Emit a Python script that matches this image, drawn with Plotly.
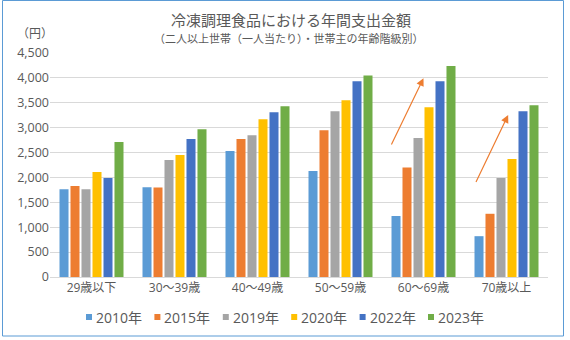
import plotly.graph_objects as go

categories = ["29歳以下", "30～39歳", "40～49歳", "50～59歳", "60～69歳", "70歳以上"]
series_names = ["2010年", "2015年", "2019年", "2020年", "2022年", "2023年"]
series_colors = ["#5B9BD5", "#ED7D31", "#A5A5A5", "#FFC000", "#4472C4", "#70AD47"]
values_2010 = [1765, 1805, 2530, 2130, 1225, 820]
values_2015 = [1830, 1800, 2770, 2950, 2200, 1270]
values_2019 = [1765, 2350, 2850, 3330, 2790, 1990]
values_2020 = [2110, 2450, 3170, 3550, 3410, 2370]
values_2022 = [1990, 2770, 3310, 3930, 3930, 3330]
values_2023 = [2710, 2970, 3430, 4050, 4240, 3450]
series_values = [values_2010, values_2015, values_2019, values_2020, values_2022, values_2023]

y_ticks = [0, 500, 1000, 1500, 2000, 2500, 3000, 3500, 4000, 4500]

# trend arrows: (tail category index, tail value, head category index, head value)
arrow_60s = (3.605, 2630, 4.0, 3995)
arrow_70s = (4.624, 1880, 5.02, 3255)

title_text = "冷凍調理食品における年間支出金額"
subtitle_text = "（二人以上世帯（一人当たり）・世帯主の年齢階級別）"
unit_text = "（円）"

TXT = "#595959"
FONT = "Open Sans, Noto Sans CJK JP, sans-serif"
CJK = "Noto Sans CJK JP, sans-serif"

W, H = 570, 340
ML, MR, MT, MB = 50, 22, 53, 63
PW = W - ML - MR
PH = H - MT - MB


def px_x(px):
    return (px - ML) / PW


def px_y(py):
    return (H - MB - py) / PH


fig = go.Figure()
for name, color, vals in zip(series_names, series_colors, series_values):
    fig.add_trace(go.Bar(x=categories, y=vals, name=name, marker_color=color,
                         marker_line_width=0, showlegend=False))

annotations = [
    dict(text=title_text, x=px_x(291), y=px_y(20), xref="paper", yref="paper",
         xanchor="center", yanchor="middle",
         showarrow=False, font=dict(family=CJK, size=15, color=TXT)),
    dict(text=subtitle_text, x=px_x(289), y=px_y(38), xref="paper", yref="paper",
         xanchor="center", yanchor="middle",
         showarrow=False, font=dict(family=CJK, size=11, color=TXT)),
    dict(text=unit_text, x=px_x(35), y=px_y(32), xref="paper", yref="paper",
         xanchor="center", yanchor="middle",
         showarrow=False, font=dict(family=CJK, size=12, color=TXT)),
]
for tx, ty, hx, hy in (arrow_60s, arrow_70s):
    annotations.append(dict(x=hx, y=hy, ax=tx, ay=ty, xref="x", yref="y",
                            axref="x", ayref="y", showarrow=True, text="",
                            arrowhead=2, arrowsize=1.3, arrowwidth=1.2,
                            arrowcolor="#ED7D31"))

shapes = [
    dict(type="rect", xref="paper", yref="paper", x0=px_x(2.5), x1=px_x(563.5),
         y0=px_y(336), y1=px_y(0.5), line=dict(color="#5B9BD5", width=1),
         fillcolor="rgba(0,0,0,0)", layer="below"),
]

# custom legend row
leg_start = 86
leg_step = 68.4
leg_y = 317
for i, (name, color) in enumerate(zip(series_names, series_colors)):
    x0 = leg_start + leg_step * i
    shapes.append(dict(type="rect", xref="paper", yref="paper",
                       x0=px_x(x0), x1=px_x(x0 + 6), y0=px_y(leg_y + 3), y1=px_y(leg_y - 3),
                       fillcolor=color, line=dict(width=0)))
    annotations.append(dict(text=name, x=px_x(x0 + 8), y=px_y(leg_y), xref="paper", yref="paper",
                            xanchor="left", yanchor="middle", showarrow=False,
                            font=dict(family=FONT, size=14, color=TXT)))

fig.update_layout(
    width=W, height=H, autosize=False,
    margin=dict(l=ML, r=MR, t=MT, b=MB, pad=0),
    paper_bgcolor="white", plot_bgcolor="white",
    barmode="group", bargap=0.205, bargroupgap=0.18,
    showlegend=False,
    annotations=annotations, shapes=shapes,
    xaxis=dict(type="category", showgrid=False, showline=True, linecolor="#D9D9D9",
               linewidth=1, ticks="", tickfont=dict(family=FONT, size=12, color=TXT),
               range=[-0.5, len(categories) - 0.5]),
    yaxis=dict(range=[0, 4500], tickvals=y_ticks, tickformat=",", showgrid=True,
               gridcolor="#D9D9D9", gridwidth=1, zeroline=False, showline=False,
               ticks="", tickfont=dict(family=FONT, size=12.5, color=TXT)),
)

fig.write_html("out.html")
